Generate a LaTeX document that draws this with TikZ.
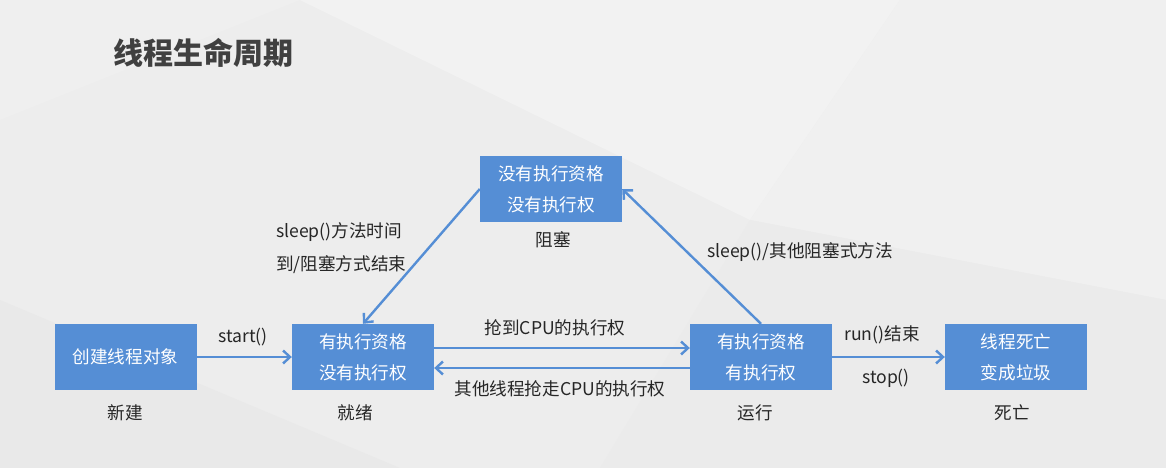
\documentclass[tikz,border=0pt]{standalone}
\usepackage{fontspec}
\setmainfont{Noto Sans CJK SC}
\usetikzlibrary{arrows.meta}
\definecolor{boxblue}{HTML}{558ED5}
\definecolor{txt}{HTML}{262626}
\definecolor{ttl}{HTML}{404040}
\begin{document}
\begin{tikzpicture}[x=1pt,y=-1pt,
  statebox/.style={fill=boxblue,draw=none,minimum width=142pt,minimum height=66pt,inner sep=0pt,
     text=white,align=center,font=\fontsize{17.6}{31}\selectfont},
  lbl/.style={text=txt,font=\fontsize{17.6}{33}\selectfont,inner sep=0pt},
  arr/.style={draw=boxblue,line width=2.4pt,-{Straight Barb[length=7pt,width=13pt]}}]
% background
\fill[color={rgb,255:red,237;green,237;blue,237}] (0,0) rectangle (1166,468);
\fill[color={rgb,255:red,242;green,242;blue,242}] (300,0) -- (900,0) -- (750,220) -- cycle;
\fill[color={rgb,255:red,240;green,240;blue,240}] (900,0) -- (1166,0) -- (1166,300) -- (750,220) -- cycle;
\fill[color={rgb,255:red,233;green,233;blue,233}] (0,300) -- (400,468) -- (0,468) -- cycle;
\fill[color={rgb,255:red,235;green,235;blue,235}] (750,220) -- (1166,300) -- (1166,468) -- (600,468) -- cycle;
\fill[color={rgb,255:red,239;green,239;blue,239}] (0,0) -- (300,0) -- (0,120) -- cycle;
\useasboundingbox (0,0) rectangle (1166,468);
% title
\node[anchor=west,text=ttl,font=\fontsize{30}{36}\selectfont\bfseries,inner sep=0pt] (title) at (113,53) {线程生命周期};
% states
\node[statebox] (new) at (125.5,357) {创建线程对象};
\node[statebox] (ready) at (363,357) {有执行资格\\没有执行权};
\node[statebox] (block) at (551,189) {没有执行资格\\没有执行权};
\node[statebox] (run) at (761,357) {有执行资格\\有执行权};
\node[statebox] (dead) at (1016,357) {线程死亡\\变成垃圾};
% captions
\node[lbl] (cnew) at (125,413) {新建};
\node[lbl] (cready) at (355,413) {就绪};
\node[lbl] (cblock) at (553,240) {阻塞};
\node[lbl] (crun) at (755,413) {运行};
\node[lbl] (cdead) at (1012,413) {死亡};
% connectors
\draw[arr] (new) -- (ready);
\draw[arr] ([yshift=9pt]ready.east) -- ([yshift=9pt]run.west);
\draw[arr] ([yshift=-11pt]run.west) -- ([yshift=-11pt]ready.east);
\draw[arr] (run.north) -- (block.east);
\draw[arr] (block.west) -- (ready.north);
\draw[arr] (run) -- (dead);
% connector labels
\node[lbl] (lstart) at (243,337) {start()};
\node[lbl] (lgrab) at (555,328) {抢到CPU的执行权};
\node[lbl] (llose) at (560,389) {其他线程抢走CPU的执行权};
\node[lbl,anchor=west,align=left] (lwake) at (276,248.5) {sleep()方法时间\\到/阻塞方式结束};
\node[lbl] (lsleep) at (800,252) {sleep()/其他阻塞式方法};
\node[lbl] (lend) at (882,335) {run()结束};
\node[lbl] (lstop) at (886,378) {stop()};
\end{tikzpicture}
\end{document}
